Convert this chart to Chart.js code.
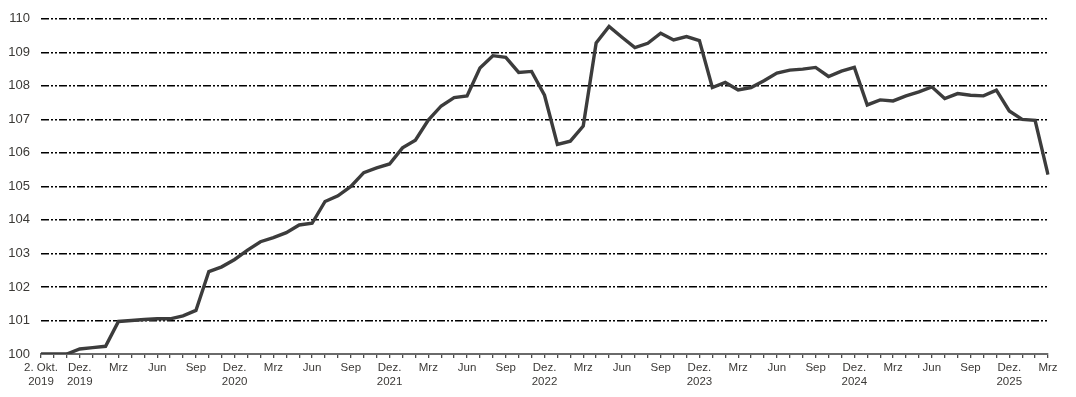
<!DOCTYPE html>
<html>
<head>
<meta charset="utf-8">
<script src="https://cdn.jsdelivr.net/npm/chart.js@4/dist/chart.umd.min.js"></script>
<style>
  html, body { margin: 0; padding: 0; background: #ffffff; }
  #wrap { width: 1076px; height: 397px; }
</style>
</head>
<body>
<div id="wrap"><canvas id="chartIndex" width="1076" height="397"></canvas></div>
<script>
// monthly points, 2 Oct 2019 .. Mrz 2026 (index 0 = start)
var monate = ['Okt', 'Nov', 'Dez', 'Jan', 'Feb', 'Mrz', 'Apr', 'Mai', 'Jun', 'Jul', 'Aug', 'Sep'];
var tickLabels = {
    0: ['2. Okt.', '2019'],
    3: ['Dez.', '2019'], 6: 'Mrz', 9: 'Jun', 12: 'Sep',
    15: ['Dez.', '2020'], 18: 'Mrz', 21: 'Jun', 24: 'Sep',
    27: ['Dez.', '2021'], 30: 'Mrz', 33: 'Jun', 36: 'Sep',
    39: ['Dez.', '2022'], 42: 'Mrz', 45: 'Jun', 48: 'Sep',
    51: ['Dez.', '2023'], 54: 'Mrz', 57: 'Jun', 60: 'Sep',
    63: ['Dez.', '2024'], 66: 'Mrz', 69: 'Jun', 72: 'Sep',
    75: ['Dez.', '2025'], 78: 'Mrz'
};
var werte = [
    100.00, 100.00, 100.00, 100.15, 100.19, 100.23, 100.97, 101.00, 101.03, 101.05,
    101.05, 101.14, 101.30, 102.46, 102.60, 102.82, 103.10, 103.35, 103.47, 103.62,
    103.85, 103.90, 104.55, 104.72, 105.00, 105.41, 105.55, 105.67, 106.15, 106.38,
    106.98, 107.40, 107.65, 107.70, 108.53, 108.90, 108.85, 108.40, 108.43, 107.72,
    106.25, 106.35, 106.80, 109.28, 109.77, 109.45, 109.14, 109.27, 109.57, 109.37,
    109.47, 109.35, 107.95, 108.10, 107.88, 107.95, 108.15, 108.38, 108.47, 108.50,
    108.55, 108.28, 108.44, 108.55, 107.43, 107.58, 107.55, 107.70, 107.82, 107.97,
    107.62, 107.77, 107.72, 107.70, 107.87, 107.25, 107.00, 106.97, 105.35
];
var yTicks = [100, 101, 102, 103, 104, 105, 106, 107, 108, 109, 110];

var kategorien = werte.map(function (v, i) { return monate[i % 12] + ' ' + (2019 + Math.floor((i + 9) / 12)); });

var textFarbe = '#3b3936';
var schriftX = { family: "'Liberation Sans', Arial, sans-serif", size: 11.5, lineHeight: 1.2 };
var schriftY = { family: "'Liberation Sans', Arial, sans-serif", size: 13 };

var ctx = document.getElementById('chartIndex').getContext('2d');
new Chart(ctx, {
    type: 'line',
    data: {
        labels: kategorien,
        datasets: [{
            data: werte,
            borderColor: '#3c3c3c',
            borderWidth: 3.4,
            pointRadius: 0,
            tension: 0,
            fill: false
        }]
    },
    options: {
        responsive: false,
        animation: false,
        layout: { padding: { top: 18, right: 28, bottom: 0, left: 0 } },
        plugins: {
            legend: { display: false },
            tooltip: { enabled: false }
        },
        scales: {
            x: {
                type: 'category',
                offset: false,
                afterFit: function (scale) { scale.height = 43; },
                border: { display: true, color: '#6a6a6a', width: 2 },
                grid: {
                    drawOnChartArea: false,
                    drawTicks: true,
                    tickLength: 4,
                    color: '#4a4a4a',
                    lineWidth: 1.3
                },
                ticks: {
                    autoSkip: false,
                    maxRotation: 0,
                    minRotation: 0,
                    padding: 3,
                    color: textFarbe,
                    font: schriftX,
                    callback: function (val, idx) {
                        return tickLabels[idx] || '';
                    }
                }
            },
            y: {
                min: 100,
                max: 110,
                afterFit: function (scale) { scale.width = 41; },
                afterBuildTicks: function (scale) {
                    scale.ticks = yTicks.map(function (v) { return { value: v }; });
                },
                border: { display: false, dash: [8, 2, 2, 2, 2, 2] },
                grid: {
                    drawTicks: false,
                    lineWidth: 1.6,
                    color: function (c) {
                        return c.tick && c.tick.value === 100 ? 'rgba(0,0,0,0)' : '#000000';
                    }
                },
                ticks: {
                    padding: 11,
                    color: textFarbe,
                    font: schriftY
                }
            }
        }
    }
});
</script>
</body>
</html>
